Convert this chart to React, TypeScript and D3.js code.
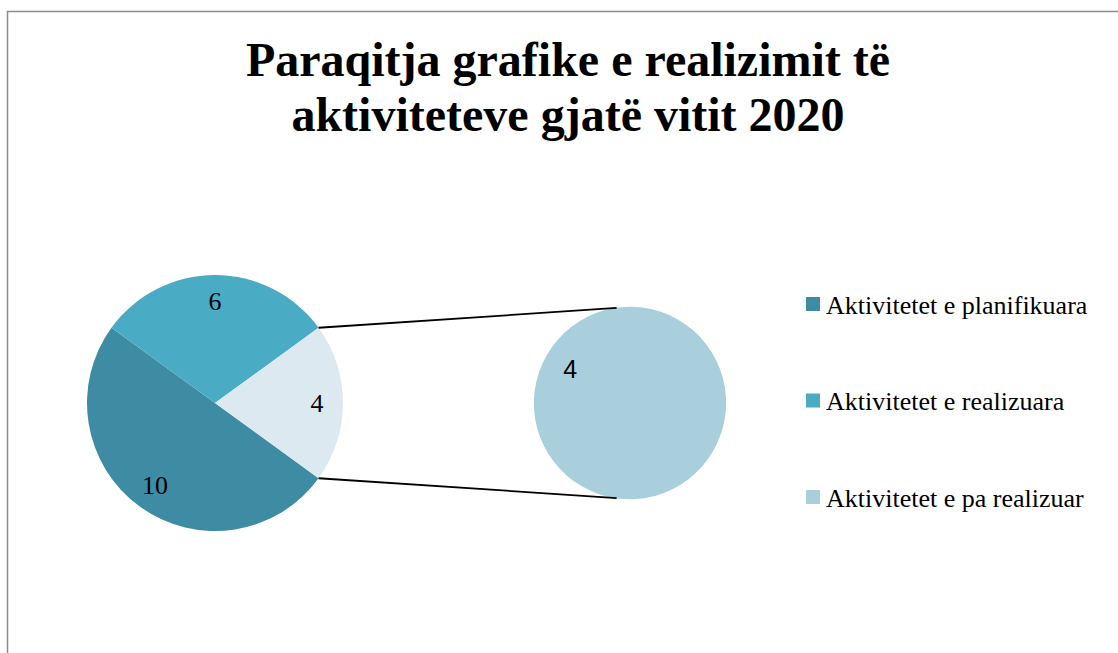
import React, { useEffect, useRef } from 'react';
import * as d3 from 'd3';

// chart data
const categories = ['Aktivitetet e planifikuara', 'Aktivitetet e realizuara', 'Aktivitetet e pa realizuar'];
const values = [10, 6, 4];
const colors = ['#3e8ca3', '#4aabc5', '#a9cfdc'];
const otherColor = '#dde9f0'; // "other" slice in the main pie
const secondaryValues = [4];
const titleLines = ['Paraqitja grafike e realizimit të', 'aktiviteteve gjatë vitit 2020'];

const W = 1118;
const H = 653;
const SERIF = '"Liberation Serif", "Times New Roman", serif';

const App: React.FC = () => {
  const svgRef = useRef<SVGSVGElement>(null);

  useEffect(() => {
    if (!svgRef.current) return;
    const svg = d3.select(svgRef.current);
    svg.selectAll('*').remove();

    svg.append('rect').attr('width', W).attr('height', H).attr('fill', '#fff');

    // chart area border (runs off the right/bottom edge)
    svg.append('rect')
      .attr('x', 7.5).attr('y', 11.5)
      .attr('width', W + 20).attr('height', H + 20)
      .attr('fill', 'none')
      .attr('stroke', '#8c8c8c')
      .attr('stroke-width', 1.5);

    // title
    const title = svg.append('text')
      .attr('text-anchor', 'middle')
      .attr('font-family', SERIF)
      .attr('font-weight', 'bold')
      .attr('font-size', 48)
      .attr('fill', '#000');
    titleLines.forEach((t, i) => {
      title.append('tspan').attr('x', 568).attr('y', 76 + i * 55).text(t);
    });

    // main pie: the "other" slice (index 2) is centred on the right
    const mainR = 128;
    const cx = 215, cy = 403;
    const otherSpan = (values[2] / d3.sum(values)) * 2 * Math.PI;
    const start = Math.PI / 2 + otherSpan / 2;
    const pie = d3.pie<number>().sort(null).value(d => d)
      .startAngle(start).endAngle(start + 2 * Math.PI);
    const arcs = pie(values);
    const arc = d3.arc<d3.PieArcDatum<number>>().innerRadius(0).outerRadius(mainR);
    const labelArc = d3.arc<d3.PieArcDatum<number>>().innerRadius(102).outerRadius(102);

    const gMain = svg.append('g').attr('transform', `translate(${cx},${cy})`);
    gMain.selectAll('path')
      .data(arcs)
      .enter()
      .append('path')
      .attr('d', arc)
      .attr('fill', (d, i) => (i === 2 ? otherColor : colors[i]));

    gMain.selectAll('text')
      .data(arcs)
      .enter()
      .append('text')
      .attr('transform', d => `translate(${labelArc.centroid(d)})`)
      .attr('text-anchor', 'middle')
      .attr('dominant-baseline', 'central')
      .attr('font-family', SERIF)
      .attr('font-size', 26)
      .attr('fill', '#000')
      .text(d => d.data);

    // secondary pie
    const secR = 96;
    const sx = 630, sy = 403;
    const secStart = (120 * Math.PI) / 180;
    const secPie = d3.pie<number>().sort(null).value(d => d)
      .startAngle(secStart).endAngle(secStart + 2 * Math.PI);
    const secArcs = secPie(secondaryValues);
    const secArc = d3.arc<d3.PieArcDatum<number>>().innerRadius(0).outerRadius(secR);
    const secLabelArc = d3.arc<d3.PieArcDatum<number>>().innerRadius(69).outerRadius(69);

    const gSec = svg.append('g').attr('transform', `translate(${sx},${sy})`);
    gSec.selectAll('path')
      .data(secArcs)
      .enter()
      .append('path')
      .attr('d', secArc)
      .attr('fill', colors[2]);
    gSec.selectAll('text')
      .data(secArcs)
      .enter()
      .append('text')
      .attr('transform', d => `translate(${secLabelArc.centroid(d)})`)
      .attr('text-anchor', 'middle')
      .attr('dominant-baseline', 'central')
      .attr('font-family', '"Liberation Sans", Arial, sans-serif')
      .attr('font-size', 25)
      .attr('fill', '#000')
      .text(d => d.data);

    // connector lines from the "other" slice to the secondary pie
    const other = arcs[2];
    const edge = (a: number, r: number, ox: number, oy: number): [number, number] =>
      [ox + r * Math.sin(a), oy - r * Math.cos(a)];
    const tilt = (8 * Math.PI) / 180;
    const lines: [[number, number], [number, number]][] = [
      [edge(other.startAngle, mainR, cx, cy), edge(-tilt, secR, sx, sy)],
      [edge(other.endAngle, mainR, cx, cy), edge(Math.PI + tilt, secR, sx, sy)],
    ];
    svg.selectAll('line.connector')
      .data(lines)
      .enter()
      .append('line')
      .attr('class', 'connector')
      .attr('x1', d => d[0][0]).attr('y1', d => d[0][1])
      .attr('x2', d => d[1][0]).attr('y2', d => d[1][1])
      .attr('stroke', '#000')
      .attr('stroke-width', 1.8);

    // legend
    const legendY = d3.scalePoint<string>().domain(categories).range([304, 497]);
    const legend = svg.append('g');
    const items = legend.selectAll('g')
      .data(categories)
      .enter()
      .append('g')
      .attr('transform', d => `translate(806,${legendY(d)})`);
    items.append('rect')
      .attr('x', 0).attr('y', -7)
      .attr('width', 14).attr('height', 14)
      .attr('fill', (d, i) => colors[i]);
    items.append('text')
      .attr('x', 20)
      .attr('y', 1)
      .attr('dominant-baseline', 'central')
      .attr('font-family', SERIF)
      .attr('font-size', 26)
      .attr('fill', '#000')
      .text(d => d);
  }, []);

  return (
    <div style={{ position: 'absolute', left: 0, top: 0 }}>
      <svg ref={svgRef} width={W} height={H} style={{ display: 'block' }}></svg>
    </div>
  );
};

export default App;
